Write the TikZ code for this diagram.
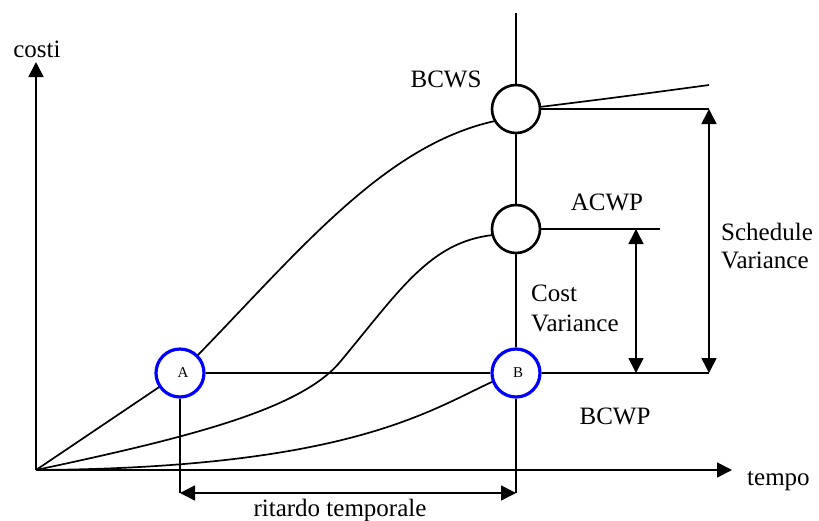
\documentclass[tikz,border=0pt]{standalone}
\usepackage{fontspec}
\setmainfont{Liberation Serif}
\usetikzlibrary{arrows.meta}

\definecolor{ringblue}{RGB}{0,0,255}

\tikzset{
  thinline/.style={line width=1.7pt, black},
  thickline/.style={line width=2.8pt, black},
  tip/.style={-{Triangle[length=15pt,width=15pt]}},
  dimline/.style={line width=1.7pt, {Triangle[length=15pt,width=15pt]}-{Triangle[length=15pt,width=15pt]}},
  ring/.style={circle, draw=black, line width=2.6pt, minimum size=48pt, inner sep=0pt, fill=white},
  bluering/.style={circle, draw=ringblue, line width=3.2pt, minimum size=48pt, inner sep=0pt, fill=white},
  lbl/.style={inner sep=0pt, font=\fontsize{25}{28}\selectfont},
  small/.style={inner sep=0pt, font=\fontsize{15}{17}\selectfont},
}

\begin{document}
\begin{tikzpicture}[x=1pt, y=-1pt]
\useasboundingbox (0,0) rectangle (819,520);

% axes
\coordinate (O) at (36,470);
\coordinate (Ytip) at (36,62);
\coordinate (Xtip) at (732,470);
\draw[thinline, tip] (O) -- (Ytip);
\draw[thinline, tip] (O) -- (Xtip);
\node[lbl, anchor=base] (costi) at (37,57) {costi};
\node[lbl, anchor=base west] (tempo) at (747,485) {tempo};

% points on the curves
\coordinate (top) at (516,13);
\coordinate (Abot) at (180,493);
\coordinate (Bbot) at (516,493);
\coordinate (Stail) at (709,85);
\coordinate (Sr) at (709,109);
\coordinate (Cr) at (660,229);
\coordinate (Br) at (709,373);
\coordinate (CVtop) at (636,229);
\coordinate (CVbot) at (636,373);

% curves (drawn before the circles so the rings cover their ends)
\draw[thinline] (O) -- (180,373);
\draw[thinline] (197,356) .. controls (300,250) and (385,145) .. (495,121);
\draw[thinline] (O) .. controls (186,438) and (300,410) .. (340,362)
                    .. controls (400,290) and (430,242) .. (493,235);
\draw[thinline] (O) .. controls (350,468) and (430,410) .. (494,381);

% circles
\node[ring] (S) at (516,109) {};
\node[ring] (C) at (516,229) {};
\node[bluering] (B) at (516,373) {};
\node[bluering] (A) at (180,373) {};
\node[small] (Alab) at (183,373) {A};
\node[small] (Blab) at (518,373) {B};

% vertical time line through the three circles
\draw[thinline] (top) -- (S);
\draw[thinline] (S) -- (C);
\draw[thinline] (C) -- (B);
\draw[thinline] (B) -- (Bbot);
\draw[thinline] (A) -- (Abot);

% tails of the curves and reference levels
\draw[thinline] (S.5) .. controls (620,97) .. (Stail);
\draw[thickline] (S) -- (Sr);
\draw[thickline] (C) -- (Cr);
\draw[thickline] (A) -- (B);
\draw[thickline] (B) -- (Br);

% variances
\draw[dimline] (Sr) -- (Br);
\draw[dimline] (CVtop) -- (CVbot);
\draw[dimline] (Abot) -- (Bbot);

% labels
\node[lbl, anchor=base] (bcws) at (446,87) {BCWS};
\node[lbl, anchor=base] (acwp) at (607,210) {ACWP};
\node[lbl, anchor=base] (bcwp) at (615,424) {BCWP};
\node[lbl, anchor=north west, align=left] (sv) at (721,222.5) {Schedule\\Variance};
\node[lbl, anchor=north west, align=left, font=\fontsize{25}{30}\selectfont] (cv) at (531,285) {Cost\\Variance};
\node[lbl, anchor=base] (rit) at (340,516) {ritardo temporale};
\end{tikzpicture}
\end{document}
